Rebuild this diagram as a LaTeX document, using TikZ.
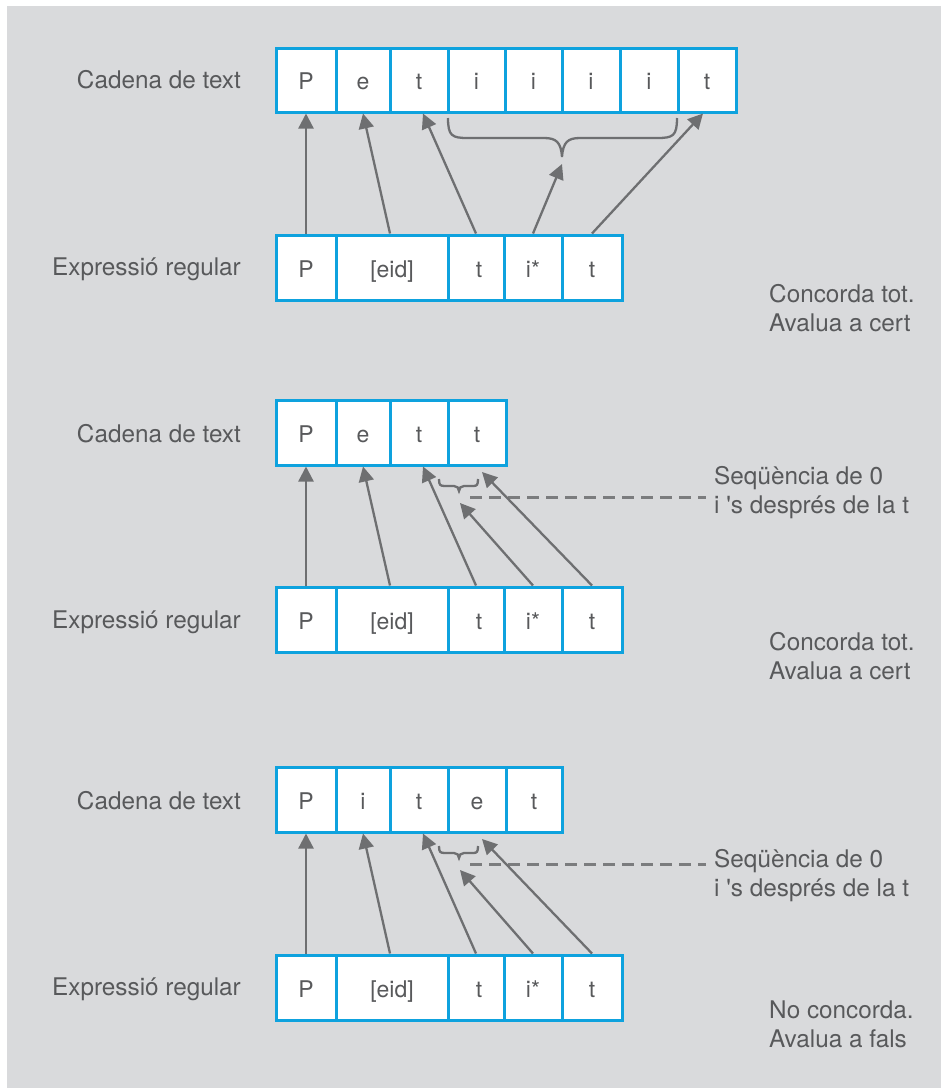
\documentclass[tikz,border=0pt]{standalone}
\usepackage{fontspec}
\setmainfont{TeX Gyre Heros}[Ligatures=TeXOff]
\usetikzlibrary{arrows.meta,calc}
\definecolor{bgc}{HTML}{D9DADC}
\definecolor{cyanc}{HTML}{0EA2DE}
\definecolor{txtc}{HTML}{58595B}
\definecolor{arrc}{HTML}{6E6F71}
\definecolor{dashc}{HTML}{7B7C7E}
\tikzset{
  cell/.style={draw=cyanc, line width=3pt, fill=white, inner sep=0pt, minimum height=64pt,
    text=txtc, font=\fontsize{23}{28}\selectfont, text height=19pt, text depth=0pt},
  lbl/.style={inner sep=0pt, text=txtc, font=\fontsize{24.3}{29}\selectfont},
  arr/.style={draw=arrc, line width=2.3pt, -{Triangle[length=15pt,width=15pt]}},
  brc/.style={draw=arrc, line width=2.3pt},
  dsh/.style={draw=dashc, line width=3pt, dash pattern=on 12pt off 7pt}
}
\begin{document}
\begin{tikzpicture}[x=1pt,y=-1pt]
\useasboundingbox (0,0) rectangle (941,1088);
\fill[white] (0,0) rectangle (941,1088);
\fill[bgc] (7,6) rectangle (941,1088);

% ---------- Section 1 ----------
\node[lbl, anchor=east] (l1a) at (241,80) {Cadena de text};
\node[lbl, anchor=east] (l1b) at (241,269) {Expressió regular};
\node[cell, minimum width=60pt] (t1a) at (306,80) {P};
\node[cell, minimum width=54pt] (t1b) at (363,80) {e};
\node[cell, minimum width=58pt] (t1c) at (419,80) {t};
\node[cell, minimum width=57pt] (t1d) at (476.5,80) {i};
\node[cell, minimum width=57pt] (t1e) at (533.5,80) {i};
\node[cell, minimum width=58pt] (t1f) at (591,80) {i};
\node[cell, minimum width=58pt] (t1g) at (649,80) {i};
\node[cell, minimum width=58pt] (t1h) at (707,80) {t};
\node[cell, minimum width=60pt, minimum height=65pt] (b1a) at (306,267.5) {P};
\node[cell, minimum width=112pt, minimum height=65pt] (b1b) at (392,267.5) {[eid]\hspace{12pt}};
\node[cell, minimum width=56pt, minimum height=65pt] (b1c) at (476,267.5) {\hspace{6pt}t};
\node[cell, minimum width=58pt, minimum height=65pt] (b1d) at (533,267.5) {i*};
\node[cell, minimum width=60pt, minimum height=65pt] (b1e) at (592,267.5) {t};
\node[lbl, anchor=west, align=left] (r1) at (769,308) {Concorda tot.\\Avalua a cert};
\coordinate (k1) at (562,164);
\draw[brc] (448,118) .. controls (448,136) and (452,138) .. (468,138) -- (544,138)
  .. controls (556,138) and (561,142) .. (562,157)
  .. controls (563,142) and (568,138) .. (580,138) -- (657,138)
  .. controls (673,138) and (677,136) .. (677,118);
\draw[arr] (b1a.north) -- (t1a.south);
\draw[arr] ($(b1b.north)+(-2,0)$) -- (t1b.south);
\draw[arr] (b1c.north) -- ($(t1c.south)+(4,0)$);
\draw[arr] (b1d.north) -- (k1);
\draw[arr] (b1e.north) -- ($(t1h.south)+(-4,0)$);

% ---------- Section 2 ----------
\node[lbl, anchor=east] (l2a) at (241,434) {Cadena de text};
\node[lbl, anchor=east] (l2b) at (241,622) {Expressió regular};
\node[cell, minimum width=60pt, minimum height=65pt] (t2a) at (306,432.5) {P};
\node[cell, minimum width=54pt, minimum height=65pt] (t2b) at (363,432.5) {e};
\node[cell, minimum width=58pt, minimum height=65pt] (t2c) at (419,432.5) {t};
\node[cell, minimum width=58pt, minimum height=65pt] (t2d) at (477,432.5) {t};
\node[cell, minimum width=60pt, minimum height=65pt] (b2a) at (306,619.5) {P};
\node[cell, minimum width=112pt, minimum height=65pt] (b2b) at (392,619.5) {[eid]\hspace{12pt}};
\node[cell, minimum width=56pt, minimum height=65pt] (b2c) at (476,619.5) {\hspace{6pt}t};
\node[cell, minimum width=58pt, minimum height=65pt] (b2d) at (533,619.5) {i*};
\node[cell, minimum width=60pt, minimum height=65pt] (b2e) at (592,619.5) {t};
\node[lbl, anchor=west, align=left] (r2) at (769,656) {Concorda tot.\\Avalua a cert};
\node[lbl, anchor=west, align=left] (s2) at (714,493) {Seqüència de 0\\i 's després de la t};
\coordinate (k2) at (460,503);
\coordinate (m2) at (482,472);
\coordinate (d2a) at (470,497);
\coordinate (d2b) at (706,497);
\draw[brc] (439,479) .. controls (439,485) and (440,486) .. (445,486) -- (454,486)
  .. controls (457,486) and (459,488) .. (459,491)
  .. controls (459,488) and (461,486) .. (464,486) -- (473,486)
  .. controls (477,486) and (478,485) .. (478,479);
\draw[dsh] (d2a) -- (d2b);
\draw[arr] (b2a.north) -- (t2a.south);
\draw[arr] ($(b2b.north)+(-2,0)$) -- (t2b.south);
\draw[arr] (b2c.north) -- ($(t2c.south)+(4,0)$);
\draw[arr] (b2d.north) -- (k2);
\draw[arr] (b2e.north) -- (m2);

% ---------- Section 3 ----------
\node[lbl, anchor=east] (l3a) at (241,801) {Cadena de text};
\node[lbl, anchor=east] (l3b) at (241,989) {Expressió regular};
\node[cell, minimum width=60pt, minimum height=65pt] (t3a) at (306,799.5) {P};
\node[cell, minimum width=54pt, minimum height=65pt] (t3b) at (363,799.5) {i};
\node[cell, minimum width=58pt, minimum height=65pt] (t3c) at (419,799.5) {t};
\node[cell, minimum width=58pt, minimum height=65pt] (t3d) at (477,799.5) {e};
\node[cell, minimum width=56pt, minimum height=65pt] (t3e) at (534,799.5) {t};
\node[cell, minimum width=60pt, minimum height=65pt] (b3a) at (306,987.5) {P};
\node[cell, minimum width=112pt, minimum height=65pt] (b3b) at (392,987.5) {[eid]\hspace{12pt}};
\node[cell, minimum width=56pt, minimum height=65pt] (b3c) at (476,987.5) {\hspace{6pt}t};
\node[cell, minimum width=58pt, minimum height=65pt] (b3d) at (533,987.5) {i*};
\node[cell, minimum width=60pt, minimum height=65pt] (b3e) at (592,987.5) {t};
\node[lbl, anchor=west, align=left] (r3) at (769,1024) {No concorda.\\Avalua a fals};
\node[lbl, anchor=west, align=left] (s3) at (714,876) {Seqüència de 0\\i 's després de la t};
\coordinate (k3) at (460,870);
\coordinate (m3) at (482,839);
\coordinate (d3a) at (470,864);
\coordinate (d3b) at (706,864);
\draw[brc] (439,846) .. controls (439,852) and (440,853) .. (445,853) -- (454,853)
  .. controls (457,853) and (459,855) .. (459,858)
  .. controls (459,855) and (461,853) .. (464,853) -- (473,853)
  .. controls (477,853) and (478,852) .. (478,846);
\draw[dsh] (d3a) -- (d3b);
\draw[arr] (b3a.north) -- (t3a.south);
\draw[arr] ($(b3b.north)+(-2,0)$) -- (t3b.south);
\draw[arr] (b3c.north) -- ($(t3c.south)+(4,0)$);
\draw[arr] (b3d.north) -- (k3);
\draw[arr] (b3e.north) -- (m3);
\end{tikzpicture}
\end{document}
